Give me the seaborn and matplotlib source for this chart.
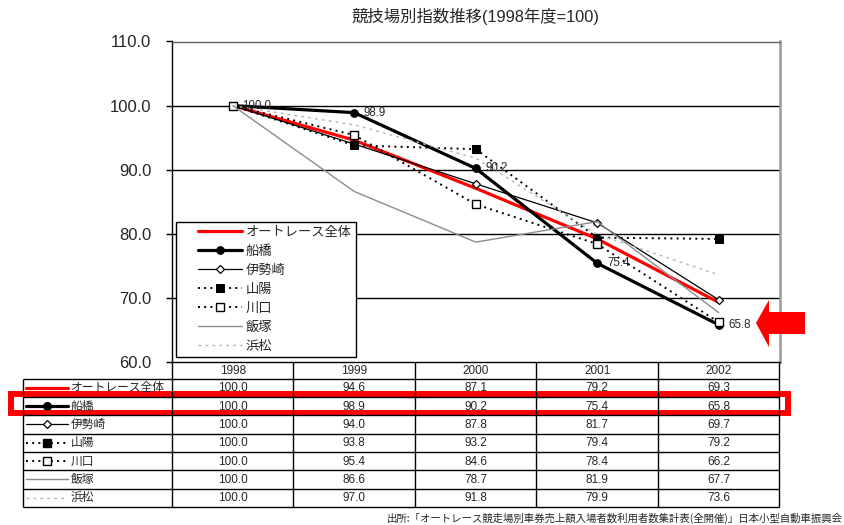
import numpy as np
import pandas as pd
import matplotlib
matplotlib.use("Agg")
import matplotlib.pyplot as plt
import seaborn as sns
from matplotlib.patches import Polygon, Rectangle
from matplotlib.legend_handler import HandlerLine2D

# ---- data ----
years = ["1998", "1999", "2000", "2001", "2002"]
names = ["オートレース全体", "船橋", "伊勢崎", "山陽", "川口", "飯塚", "浜松"]
v_all = [100.0, 94.6, 87.1, 79.2, 69.3]
v_funabashi = [100.0, 98.9, 90.2, 75.4, 65.8]
v_isesaki = [100.0, 94.0, 87.8, 81.7, 69.7]
v_sanyo = [100.0, 93.8, 93.2, 79.4, 79.2]
v_kawaguchi = [100.0, 95.4, 84.6, 78.4, 66.2]
v_iizuka = [100.0, 86.6, 78.7, 81.9, 67.7]
v_hamamatsu = [100.0, 97.0, 91.8, 79.9, 73.6]
series = [v_all, v_funabashi, v_isesaki, v_sanyo, v_kawaguchi, v_iizuka, v_hamamatsu]
yticks = [60, 70, 80, 90, 100, 110]
title = "競技場別指数推移(1998年度=100)"
source = "出所:「オートレース競走場別車券売上額入場者数利用者数集計表(全開催)」日本小型自動車振興会"

sns.set_style("white")
FONT = ["Liberation Sans", "Noto Sans CJK JP", "DejaVu Sans"]
CJK = ["Noto Sans CJK JP", "DejaVu Sans"]
plt.rcParams["font.family"] = FONT

styles = [
    dict(color="#ff0000", lw=2.3, linestyle="-"),
    dict(color="black", lw=2.3, linestyle="-", marker="o", markersize=5.5,
         markerfacecolor="black", markeredgecolor="black"),
    dict(color="black", lw=0.9, linestyle="-", marker="D", markersize=3.8,
         markerfacecolor="white", markeredgecolor="black", markeredgewidth=0.9),
    dict(color="black", lw=1.4, linestyle=(0, (1, 2.2)), marker="s", markersize=5.5,
         markerfacecolor="black", markeredgecolor="black"),
    dict(color="black", lw=1.4, linestyle=(0, (1, 2.2)), marker="s", markersize=5.5,
         markerfacecolor="white", markeredgecolor="black", markeredgewidth=1.0),
    dict(color="#8c8c8c", lw=1.0, linestyle="-"),
    dict(color="#b4b4b4", lw=1.0, linestyle=(0, (2, 3))),
]


class ShiftHandler(HandlerLine2D):
    """Draw the legend sample only on the right part of the handle box."""
    def __init__(self, skip, **kw):
        super().__init__(**kw)
        self.skip = skip

    def create_artists(self, legend, orig_handle, xdescent, ydescent, width, height,
                       fontsize, trans):
        s = self.skip * fontsize
        return super().create_artists(legend, orig_handle, xdescent - s, ydescent,
                                      width - s, height, fontsize, trans)


W, H = 845, 525
fig = plt.figure(figsize=(W / 100, H / 100), dpi=100)
L, R, T, B = 172, 779.5, 41.5, 362
ax = fig.add_axes([L / W, 1 - B / H, (R - L) / W, (B - T) / H])

xpos = np.arange(len(years))
for name, vals, st in zip(names, series, styles):
    df = pd.DataFrame({"x": xpos, "y": vals})
    sns.lineplot(data=df, x="x", y="y", ax=ax, label=name, zorder=3, **st)

ax.set_xlim(-0.5, len(years) - 0.5)
ax.set_ylim(yticks[0], yticks[-1])
ax.set_yticks(yticks)
ax.set_yticklabels([f"{t:.1f}" for t in yticks], fontsize=12)
ax.set_xticks([])
ax.set_xlabel("")
ax.set_ylabel("")
ax.tick_params(axis="y", direction="out", length=4, width=1, color="black", pad=11, left=True)
for t in yticks[1:-1]:
    ax.axhline(t, color="black", lw=1, zorder=1)
ax.spines["left"].set_color("black")
ax.spines["bottom"].set_color("black")
ax.spines["top"].set_color("#606060")
ax.spines["right"].set_color("#9a9a9a")
ax.spines["right"].set_linewidth(1.8)
for s in ["left", "bottom", "top"]:
    ax.spines[s].set_linewidth(1.0)

# data labels for 船橋
for x, v in zip(xpos, v_funabashi):
    ax.annotate(f"{v:.1f}", (x, v), xytext=(7, 0), textcoords="offset points",
                va="center", ha="left", fontsize=8.3, zorder=4)

handles = ax.get_lines()[:len(names)]
leg = ax.legend(handles=handles, labels=names, loc="lower left",
                bbox_to_anchor=(0.0066, 0.0156), frameon=True, fancybox=False,
                edgecolor="black", framealpha=1, fontsize=9.5, handlelength=4.7,
                handletextpad=0.3, labelspacing=0.46, borderpad=0.3, borderaxespad=0,
                handler_map={h: ShiftHandler(1.36) for h in handles})
leg.get_frame().set_linewidth(1.0)
for t in leg.get_texts():
    t.set_family(CJK)

ax.set_title(title, fontsize=11.8, pad=14, x=0.5)

# ---- overlay in pixel coordinates for the data table ----
ov = fig.add_axes([0, 0, 1, 1], zorder=5)
ov.set_xlim(0, W)
ov.set_ylim(H, 0)
ov.axis("off")
ov.patch.set_alpha(0)

col_w = (R - L) / len(years)
tleft = 23
header_top, header_bot = B, 378.5
row_h = (507 - header_bot) / len(names)
tbottom = header_bot + row_h * len(names)

lk = dict(color="black", lw=1.0, solid_capstyle="butt")
ov.plot([tleft, R], [header_bot, header_bot], **lk)
for i in range(1, len(names)):
    yy = header_bot + i * row_h
    ov.plot([tleft, R], [yy, yy], **lk)
ov.plot([tleft, R], [tbottom, tbottom], **lk)
ov.plot([tleft, tleft], [header_bot, tbottom], **lk)
for j in range(len(years) + 1):
    xx = L + j * col_w
    ov.plot([xx, xx], [header_top, tbottom], **lk)

fs_t = 8.5
for j, yr in enumerate(years):
    ov.text(L + (j + 0.5) * col_w, (header_top + header_bot) / 2 + 0.5, yr,
            ha="center", va="center", fontsize=fs_t)
for i, (name, vals, st) in enumerate(zip(names, series, styles)):
    yc = header_bot + (i + 0.5) * row_h
    lst = {k: v for k, v in st.items() if not k.startswith("marker")}
    ov.plot([26, 68], [yc, yc], **lst)
    if "marker" in st:
        mst = {k: v for k, v in st.items() if k.startswith("marker")}
        ov.plot([47], [yc], linestyle="none", **mst)
    ov.text(71, yc, name, ha="left", va="center", fontsize=fs_t, family=CJK)
    for j, v in enumerate(vals):
        ov.text(L + (j + 0.5) * col_w, yc + 0.5, f"{v:.1f}", ha="center", va="center", fontsize=fs_t)

# red highlight around 船橋 row
r_top = header_bot + row_h * 1 - 2.5
r_bot = header_bot + row_h * 2 - 2.5
ov.add_patch(Rectangle((11.5, r_top), 788 - 11.5, r_bot - r_top, fill=False,
                       edgecolor="#ff0000", lw=4.3, joinstyle="miter"))

# red arrow
ov.add_patch(Polygon([(756, 323), (769, 300), (769, 312), (805, 312), (805, 334),
                      (769, 334), (769, 347)], closed=True, facecolor="#ff0000",
                     edgecolor="none"))

fig.text(843 / W, 1 - 518 / H, source, ha="right", va="center", fontsize=7.5, family=CJK)

fig.savefig("out.png", dpi=100)
